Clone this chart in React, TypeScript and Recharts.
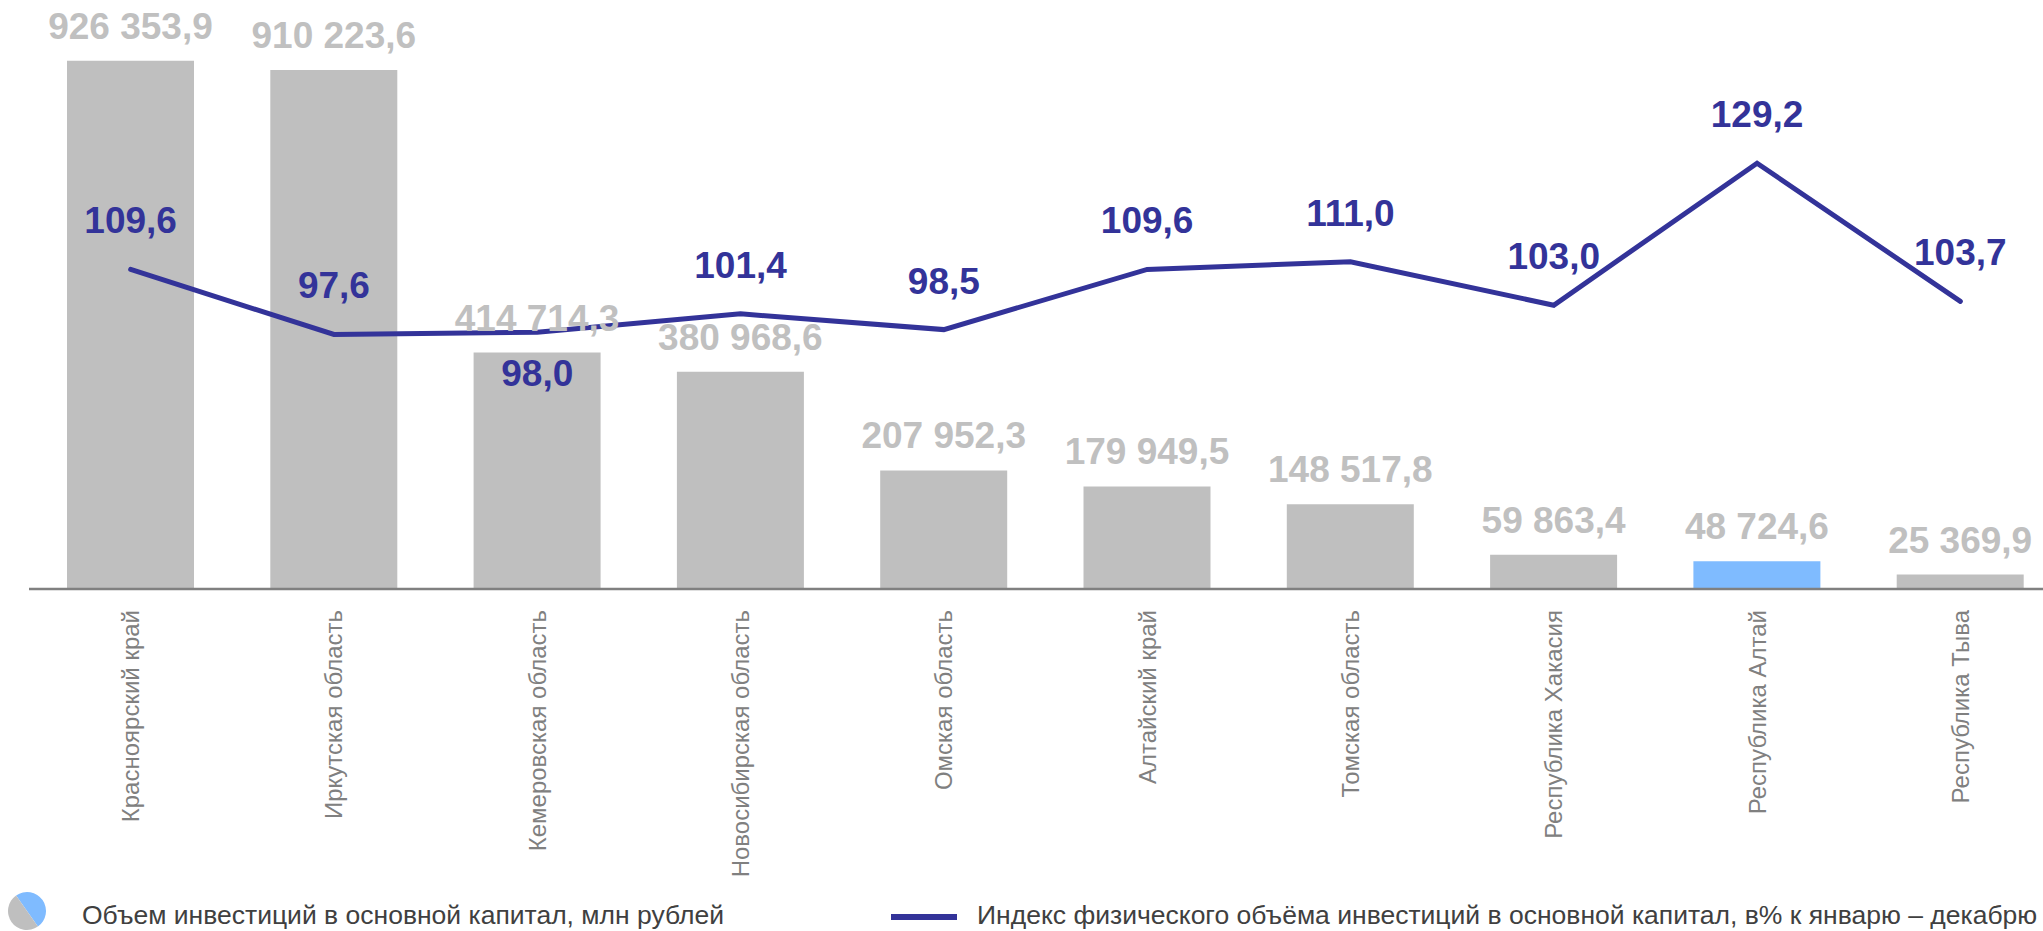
import React from 'react';
import { ComposedChart, Bar, Line, XAxis, YAxis, LabelList, Cell, Legend } from 'recharts';

const regions = [
  'Красноярский край',
  'Иркутская область',
  'Кемеровская область',
  'Новосибирская область',
  'Омская область',
  'Алтайский край',
  'Томская область',
  'Республика Хакасия',
  'Республика Алтай',
  'Республика Тыва',
];

const investments = [926353.9, 910223.6, 414714.3, 380968.6, 207952.3, 179949.5, 148517.8, 59863.4, 48724.6, 25369.9];

const volumeIndex = [109.6, 97.6, 98.0, 101.4, 98.5, 109.6, 111.0, 103.0, 129.2, 103.7];

const barLegend = 'Объем инвестиций в основной капитал, млн рублей';
const lineLegend = 'Индекс физического объёма инвестиций в основной капитал, в% к январю – декабрю';

const HIGHLIGHT = 'Республика Алтай';
const BELOW_LABEL = 'Кемеровская область';

const data = regions.map((name, i) => ({ name, inv: investments[i], idx: volumeIndex[i] }));

const FONT = '"Liberation Sans", Arial, sans-serif';
const GRAY = '#bfbfbf';
const BLUE = '#7fbbff';
const LINE = '#333399';

const fmt = (v: number) => {
  const [int, dec] = v.toFixed(1).split('.');
  const withSpaces = int.replace(/\B(?=(\d{3})+(?!\d))/g, ' ');
  return withSpaces + ',' + dec;
};

const BarLabel = (props: any) => {
  const { x, y, width, value } = props;
  return (
    <text x={x + width / 2} y={y - 22} textAnchor="middle" fontFamily={FONT} fontWeight="bold" fontSize={37} fill="#c0c0c0">
      {fmt(value)}
    </text>
  );
};

const LineLabel = (props: any) => {
  const { x, y, value, index } = props;
  const below = regions[index] === BELOW_LABEL;
  return (
    <text x={x} y={below ? y + 54 : y - 36} textAnchor="middle" fontFamily={FONT} fontWeight="bold" fontSize={37} fill={LINE}>
      {fmt(value)}
    </text>
  );
};

const Tick = (props: any) => {
  const { x, y, payload } = props;
  return (
    <g transform={`translate(${x},${y + 21})`}>
      <text transform="rotate(-90)" textAnchor="end" dominantBaseline="central" fontFamily={FONT} fontSize={24} fill="#808080">
        {payload.value}
      </text>
    </g>
  );
};

const LegendContent = () => {
  const cx = 27;
  const cy = 31;
  const r = 19;
  const a = (55 * Math.PI) / 180;
  const p1 = [cx - r * Math.cos(a), cy - r * Math.sin(a)];
  const p2 = [cx + r * Math.cos(a), cy + r * Math.sin(a)];
  return (
    <svg width={2043} height={51} style={{ display: 'block' }}>
      <path d={`M${p1[0]},${p1[1]} A${r},${r} 0 0 1 ${p2[0]},${p2[1]} Z`} fill={BLUE} />
      <path d={`M${p2[0]},${p2[1]} A${r},${r} 0 0 1 ${p1[0]},${p1[1]} Z`} fill={GRAY} />
      <text x={82} y={44} fontFamily={FONT} fontSize={26.5} fill="#404040">{barLegend}</text>
      <line x1={891} x2={957} y1={37} y2={37} stroke={LINE} strokeWidth={6} />
      <text x={977} y={44} fontFamily={FONT} fontSize={26.5} fill="#404040">{lineLegend}</text>
    </svg>
  );
};

export default function App() {
  return (
    <div style={{ position: 'absolute', left: 0, top: 0, width: 2043, height: 931, overflow: 'hidden', background: '#fff' }}>
      <ComposedChart width={2080} height={931} data={data} margin={{ top: 0, right: 18, left: 29, bottom: 0 }}>
        <XAxis
          dataKey="name"
          height={342}
          interval={0}
          tickLine={false}
          tickSize={0}
          tickMargin={0}
          axisLine={{ stroke: '#808080', strokeWidth: 2.5 }}
          tick={<Tick />}
        />
        <YAxis yAxisId="left" hide domain={[0, 1033000]} allowDataOverflow />
        <YAxis yAxisId="right" orientation="right" hide domain={[50.65, 159.3]} allowDataOverflow />
        <Bar yAxisId="left" dataKey="inv" barSize={127} isAnimationActive={false}>
          {data.map((d) => (
            <Cell key={d.name} fill={d.name === HIGHLIGHT ? BLUE : GRAY} />
          ))}
          <LabelList dataKey="inv" content={<BarLabel />} />
        </Bar>
        <Line
          yAxisId="right"
          dataKey="idx"
          type="linear"
          stroke={LINE}
          strokeWidth={5}
          strokeLinecap="round"
          dot={false}
          activeDot={false}
          isAnimationActive={false}
        >
          <LabelList dataKey="idx" content={<LineLabel />} />
        </Line>
        <Legend
          verticalAlign="middle"
          align="center"
          layout="horizontal"
          content={<LegendContent />}
          wrapperStyle={{ top: 880, left: 0, width: 2043, height: 51 }}
        />
      </ComposedChart>
    </div>
  );
}
